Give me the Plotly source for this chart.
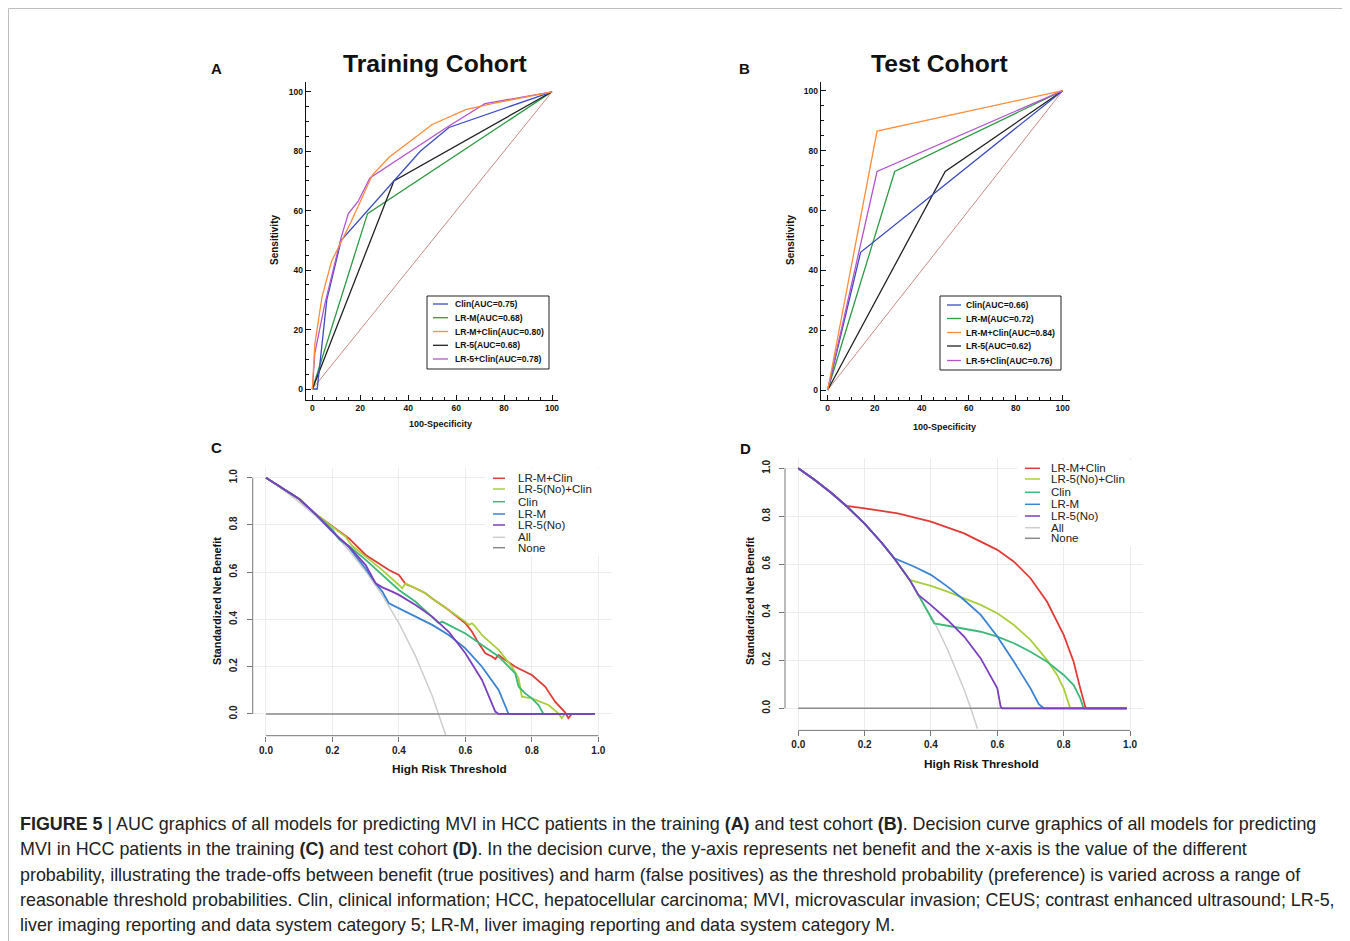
import plotly.graph_objects as go

OFF = 8  # page body margin
W, H = 1342, 933


def px(x):
    return (x - OFF) / W


def py(y):
    return 1 - (y - OFF) / H


# ---------------- ROC data (panel A, training cohort) ----------------
rocA_names = ["Clin(AUC=0.75)", "LR-M(AUC=0.68)", "LR-M+Clin(AUC=0.80)",
              "LR-5(AUC=0.68)", "LR-5+Clin(AUC=0.78)"]
clinA_x = [0, 2, 6, 12, 45, 57, 100]
clinA_y = [0, 0, 30, 50, 80, 88, 100]
lrmA_x = [0, 23, 100]
lrmA_y = [0, 59, 100]
lrmclinA_x = [0, 1, 4, 8, 16, 25, 32, 40, 50, 64, 75, 100]
lrmclinA_y = [0, 15, 31, 43, 56, 72, 78, 83, 89, 94, 96, 100]
lr5A_x = [0, 34, 100]
lr5A_y = [0, 70, 100]
lr5clinA_x = [0, 1, 5, 12, 15, 19, 24, 45, 56, 72, 100]
lr5clinA_y = [0, 12, 28, 51, 59, 63, 71, 82, 88, 96, 100]

# ---------------- ROC data (panel B, test cohort) ----------------
rocB_names = ["Clin(AUC=0.66)", "LR-M(AUC=0.72)", "LR-M+Clin(AUC=0.84)",
              "LR-5(AUC=0.62)", "LR-5+Clin(AUC=0.76)"]
clinB_x = [0, 14, 100]
clinB_y = [0, 46, 100]
lrmB_x = [0, 28.5, 100]
lrmB_y = [0, 73, 100]
lrmclinB_x = [0, 21, 100]
lrmclinB_y = [0, 86.5, 100]
lr5B_x = [0, 50, 100]
lr5B_y = [0, 73, 100]
lr5clinB_x = [0, 21, 100]
lr5clinB_y = [0, 73, 100]

diag_x = [0, 100]
diag_y = [0, 100]

roc_ticks = [0, 20, 40, 60, 80, 100]

# ---------------- Decision curves (panel C, training) ----------------
dca_names = ["LR-M+Clin", "LR-5(No)+Clin", "Clin", "LR-M", "LR-5(No)", "All", "None"]
allC_x = [0, 0.05, 0.1, 0.15, 0.2, 0.25, 0.3, 0.35, 0.4, 0.45, 0.5, 0.52, 0.545]
allC_y = [1.0, 0.951, 0.897, 0.837, 0.769, 0.692, 0.604, 0.503, 0.385, 0.245, 0.077, 0.0, -0.106]
noneC_x = [0, 0.99]
noneC_y = [0, 0]
redC_x = [0, 0.05, 0.1, 0.15, 0.2, 0.25, 0.3, 0.34, 0.37, 0.4, 0.41, 0.42, 0.45, 0.48, 0.5,
          0.55, 0.6, 0.62, 0.64, 0.66, 0.68, 0.69, 0.7, 0.72, 0.75, 0.8, 0.84, 0.87, 0.9,
          0.91, 0.92, 0.99]
redC_y = [1.0, 0.955, 0.91, 0.845, 0.793, 0.743, 0.673, 0.638, 0.609, 0.588, 0.567, 0.55,
          0.532, 0.511, 0.489, 0.44, 0.384, 0.348, 0.299, 0.257, 0.243, 0.233, 0.25, 0.228,
          0.2, 0.165, 0.116, 0.052, 0.007, -0.018, 0.0, 0.0]
yelC_x = [0, 0.05, 0.1, 0.15, 0.2, 0.24, 0.25, 0.26, 0.3, 0.35, 0.4, 0.41, 0.42, 0.45, 0.48,
          0.5, 0.55, 0.6, 0.61, 0.62, 0.63, 0.65, 0.7, 0.74, 0.76, 0.77, 0.8, 0.85, 0.88,
          0.89, 0.9, 0.99]
yelC_y = [1.0, 0.955, 0.91, 0.845, 0.793, 0.75, 0.729, 0.711, 0.666, 0.609, 0.546, 0.532,
          0.553, 0.532, 0.511, 0.489, 0.44, 0.391, 0.377, 0.384, 0.37, 0.334, 0.271, 0.2,
          0.151, 0.073, 0.066, 0.038, 0.003, -0.018, 0.0, 0.0]
grnC_x = [0, 0.05, 0.1, 0.15, 0.2, 0.22, 0.25, 0.3, 0.35, 0.4, 0.45, 0.5, 0.52, 0.53, 0.6,
          0.65, 0.7, 0.75, 0.76, 0.78, 0.8, 0.82, 0.835, 0.99]
grnC_y = [1.0, 0.955, 0.91, 0.845, 0.78, 0.739, 0.711, 0.652, 0.588, 0.525, 0.475, 0.412,
          0.384, 0.391, 0.341, 0.292, 0.243, 0.172, 0.116, 0.087, 0.066, 0.038, 0.0, 0.0]
bluC_x = [0, 0.05, 0.1, 0.15, 0.2, 0.25, 0.3, 0.33, 0.35, 0.37, 0.4, 0.45, 0.5, 0.55, 0.6,
          0.65, 0.7, 0.73, 0.99]
bluC_y = [1.0, 0.955, 0.91, 0.845, 0.772, 0.705, 0.615, 0.553, 0.518, 0.468, 0.447, 0.412,
          0.377, 0.334, 0.278, 0.2, 0.102, 0.0, 0.0]
purC_x = [0, 0.05, 0.1, 0.15, 0.2, 0.25, 0.3, 0.33, 0.35, 0.38, 0.4, 0.45, 0.5, 0.55, 0.6,
          0.65, 0.69, 0.7, 0.99]
purC_y = [1.0, 0.955, 0.91, 0.845, 0.772, 0.708, 0.63, 0.553, 0.536, 0.518, 0.504, 0.461,
          0.412, 0.348, 0.257, 0.144, 0.01, 0.0, 0.0]

# ---------------- Decision curves (panel D, test) ----------------
allD_x = [0, 0.05, 0.1, 0.145, 0.2, 0.25, 0.29, 0.335, 0.362, 0.41, 0.45, 0.5, 0.52, 0.54]
allD_y = [1.0, 0.951, 0.897, 0.843, 0.769, 0.692, 0.623, 0.537, 0.472, 0.36, 0.245, 0.077,
          0.0, -0.085]
noneD_x = [0, 0.99]
noneD_y = [0, 0]
redD_x = [0, 0.05, 0.1, 0.145, 0.2, 0.3, 0.4, 0.5, 0.6, 0.65, 0.7, 0.75, 0.8, 0.83, 0.85,
          0.865, 0.87, 0.99]
redD_y = [1.0, 0.951, 0.897, 0.843, 0.833, 0.8125, 0.778, 0.729, 0.66, 0.611, 0.542, 0.444,
          0.306, 0.194, 0.083, 0.007, 0.0, 0.0]
yelD_x = [0, 0.05, 0.1, 0.145, 0.2, 0.25, 0.29, 0.335, 0.4, 0.45, 0.5, 0.55, 0.6, 0.65, 0.7,
          0.75, 0.78, 0.8, 0.82, 0.99]
yelD_y = [1.0, 0.951, 0.897, 0.843, 0.769, 0.692, 0.623, 0.535, 0.51, 0.486, 0.458, 0.431,
          0.396, 0.347, 0.285, 0.201, 0.139, 0.083, 0.0, 0.0]
grnD_x = [0, 0.05, 0.1, 0.145, 0.2, 0.25, 0.29, 0.335, 0.362, 0.41, 0.45, 0.5, 0.55, 0.6,
          0.65, 0.7, 0.75, 0.8, 0.83, 0.85, 0.86, 0.99]
grnD_y = [1.0, 0.951, 0.897, 0.843, 0.769, 0.692, 0.623, 0.537, 0.472, 0.354, 0.344, 0.333,
          0.319, 0.299, 0.271, 0.236, 0.194, 0.139, 0.097, 0.042, 0.0, 0.0]
bluD_x = [0, 0.05, 0.1, 0.145, 0.2, 0.25, 0.29, 0.35, 0.4, 0.45, 0.5, 0.55, 0.6, 0.65, 0.7,
          0.725, 0.74, 0.99]
bluD_y = [1.0, 0.951, 0.897, 0.843, 0.769, 0.692, 0.625, 0.59, 0.556, 0.507, 0.451, 0.389,
          0.299, 0.194, 0.083, 0.017, 0.0, 0.0]
purD_x = [0, 0.05, 0.1, 0.145, 0.2, 0.25, 0.29, 0.335, 0.362, 0.4, 0.45, 0.5, 0.55, 0.6,
          0.61, 0.615, 0.99]
purD_y = [1.0, 0.951, 0.897, 0.843, 0.769, 0.692, 0.623, 0.537, 0.472, 0.43, 0.368, 0.299,
          0.208, 0.083, 0.007, 0.0, 0.0]

dca_ticks = [0, 0.2, 0.4, 0.6, 0.8, 1.0]

caption_lines = [
    "<b>FIGURE 5</b> | AUC graphics of all models for predicting MVI in HCC patients in the training <b>(A)</b> and test cohort <b>(B)</b>. Decision curve graphics of all models for predicting",
    "MVI in HCC patients in the training <b>(C)</b> and test cohort <b>(D)</b>. In the decision curve, the y-axis represents net benefit and the x-axis is the value of the different",
    "probability, illustrating the trade-offs between benefit (true positives) and harm (false positives) as the threshold probability (preference) is varied across a range of",
    "reasonable threshold probabilities. Clin, clinical information; HCC, hepatocellular carcinoma; MVI, microvascular invasion; CEUS; contrast enhanced ultrasound; LR-5,",
    "liver imaging reporting and data system category 5; LR-M, liver imaging reporting and data system category M.",
]

# ---------------- styles ----------------
roc_colors = ["#3b4cc0", "#2e9a44", "#ff8c3a", "#222222", "#b455cc"]
diag_color = "#c98a86"
dca_colors = ["#e23b36", "#a9cf3d", "#3cb878", "#3a82d2", "#7c3fbd", "#cdcdcd", "#8a8a8a"]
SANS = "Liberation Sans, Arial, sans-serif"

fig = go.Figure()

rocA = [(clinA_x, clinA_y), (lrmA_x, lrmA_y), (lrmclinA_x, lrmclinA_y),
        (lr5A_x, lr5A_y), (lr5clinA_x, lr5clinA_y)]
rocB = [(clinB_x, clinB_y), (lrmB_x, lrmB_y), (lrmclinB_x, lrmclinB_y),
        (lr5B_x, lr5B_y), (lr5clinB_x, lr5clinB_y)]

for xr, yr in [("x", "y"), ("x2", "y2")]:
    fig.add_trace(go.Scatter(x=diag_x, y=diag_y, mode="lines", xaxis=xr, yaxis=yr,
                             line=dict(color=diag_color, width=1), showlegend=False,
                             hoverinfo="skip"))

for series, names, xr, yr in [(rocA, rocA_names, "x", "y"), (rocB, rocB_names, "x2", "y2")]:
    for i in [1, 3, 0, 4, 2]:
        xs, ys = series[i]
        fig.add_trace(go.Scatter(x=xs, y=ys, mode="lines", xaxis=xr, yaxis=yr, name=names[i],
                                 line=dict(color=roc_colors[i], width=1.3), showlegend=False))

dcaC = [(redC_x, redC_y), (yelC_x, yelC_y), (grnC_x, grnC_y), (bluC_x, bluC_y),
        (purC_x, purC_y), (allC_x, allC_y), (noneC_x, noneC_y)]
dcaD = [(redD_x, redD_y), (yelD_x, yelD_y), (grnD_x, grnD_y), (bluD_x, bluD_y),
        (purD_x, purD_y), (allD_x, allD_y), (noneD_x, noneD_y)]

for series, xr, yr in [(dcaC, "x3", "y3"), (dcaD, "x4", "y4")]:
    for i in [5, 6, 0, 1, 2, 3, 4]:
        xs, ys = series[i]
        fig.add_trace(go.Scatter(x=xs, y=ys, mode="lines", xaxis=xr, yaxis=yr,
                                 name=dca_names[i], showlegend=False,
                                 line=dict(color=dca_colors[i], width=1.8 if i < 5 else 1.5)))

# ---------------- axes ----------------
roc_tickfont = dict(family=SANS, size=8.5, color="#111", weight="bold")


def roc_axis(l, r, rng, anchor):
    return dict(domain=[l, r], range=rng, anchor=anchor, showline=True, linecolor="#111",
                linewidth=1, ticks="inside", ticklen=5, tickwidth=1, tickcolor="#111",
                tickvals=roc_ticks, showgrid=False, zeroline=False, tickfont=roc_tickfont,
                minor=dict(dtick=5, ticks="inside", ticklen=3, tickcolor="#111", showgrid=False))


dca_tickfont = dict(family=SANS, size=10, color="#222", weight="bold")


def dca_axis(l, r, rng, anchor, angle=0, standoff=None):
    d = dict(domain=[l, r], range=rng, anchor=anchor, showline=False, ticks="outside",
             ticklen=5, tickwidth=1, tickcolor="#777", tickvals=dca_ticks,
             tickformat=".1f", showgrid=True, gridcolor="#ececec", gridwidth=1,
             zeroline=False, tickfont=dca_tickfont, tickangle=angle)
    if standoff is not None:
        d["ticklabelstandoff"] = standoff
    return d


fig.update_layout(
    width=W, height=H, margin=dict(l=0, r=0, t=0, b=0),
    paper_bgcolor="white", plot_bgcolor="white", showlegend=False,
    xaxis=roc_axis(px(305.7), px(558), [-2.8, 102.5], "y"),
    yaxis=roc_axis(py(400), py(81.7), [-3.7, 103.4], "x"),
    xaxis2=roc_axis(px(820.7), px(1070), [-2.98, 103.1], "y2"),
    yaxis2=roc_axis(py(400), py(81.7), [-3.34, 103.0], "x2"),
    xaxis3=dca_axis(px(252.7), px(611.6), [-0.04, 1.04], "y3"),
    yaxis3=dca_axis(py(735.7), py(467.8), [-0.092, 1.042], "x3", -90, 6),
    xaxis4=dca_axis(px(785.0), px(1143.3), [-0.04, 1.04], "y4"),
    yaxis4=dca_axis(py(730.4), py(458.2), [-0.092, 1.042], "x4", -90, 5),
)

shapes = []
annotations = []

# outer frame
shapes.append(dict(type="rect", xref="paper", yref="paper", x0=px(8.5), x1=px(1343),
                   y0=py(950), y1=py(8.5), line=dict(color="#bdbdbd", width=1)))

# decision-curve axis lines spanning 0..1
for xr, yr in [("x3", "y3"), ("x4", "y4")]:
    shapes.append(dict(type="line", xref=xr, yref=yr + " domain", x0=0, x1=1, y0=0, y1=0,
                       line=dict(color="#777", width=1)))
    shapes.append(dict(type="line", xref=xr + " domain", yref=yr, x0=0, x1=0, y0=0, y1=1,
                       line=dict(color="#777", width=1)))

# ROC legends (manual boxes)
roc_leg = [
    (rocA_names, (427, 296, 549, 369), [304, 317.7, 331.5, 345.3, 359], 433, 448, 452.5),
    (rocB_names, (940, 296, 1061, 370), [305, 318.5, 332.5, 346, 360.5], 947, 961, 964),
]
for names, box, ys, lx0, lx1, tx in roc_leg:
    shapes.append(dict(type="rect", xref="paper", yref="paper", x0=px(box[0]), x1=px(box[2]),
                       y0=py(box[3]), y1=py(box[1]), line=dict(color="#222", width=1),
                       fillcolor="white", layer="above"))
    for i, (nm, yy) in enumerate(zip(names, ys)):
        shapes.append(dict(type="line", xref="paper", yref="paper", x0=px(lx0), x1=px(lx1),
                           y0=py(yy), y1=py(yy), line=dict(color=roc_colors[i], width=1.3),
                           layer="above"))
        annotations.append(dict(text=nm, xref="paper", yref="paper", x=px(tx), y=py(yy),
                                xanchor="left", yanchor="middle", showarrow=False,
                                font=dict(family=SANS, size=8.6, color="#111", weight="bold")))

# DCA legends
dca_leg = [
    ((485, 469, 612, 556), [478.3, 489, 501.7, 514, 525, 537.3, 547.7], 493, 505, 516),
    ((1017, 460, 1143, 546), [468.3, 479, 492.3, 504.3, 516, 527.7, 538.3], 1025, 1040, 1049),
]
for box, ys, lx0, lx1, tx in dca_leg:
    shapes.append(dict(type="rect", xref="paper", yref="paper", x0=px(box[0]), x1=px(box[2]),
                       y0=py(box[3]), y1=py(box[1]), line=dict(width=0),
                       fillcolor="white", layer="above"))
    for i, (nm, yy) in enumerate(zip(dca_names, ys)):
        shapes.append(dict(type="line", xref="paper", yref="paper", x0=px(lx0), x1=px(lx1),
                           y0=py(yy), y1=py(yy), line=dict(color=dca_colors[i], width=1.5),
                           layer="above"))
        annotations.append(dict(text=nm, xref="paper", yref="paper", x=px(tx), y=py(yy),
                                xanchor="left", yanchor="middle", showarrow=False,
                                font=dict(family=SANS, size=11.5, color="#222")))


def ann(text, x, y, size, bold=True, angle=0, xanchor="center", color="#111"):
    annotations.append(dict(text=text, xref="paper", yref="paper", x=px(x), y=py(y),
                            xanchor=xanchor, yanchor="middle", showarrow=False, textangle=angle,
                            font=dict(family=SANS, size=size, color=color,
                                      weight="bold" if bold else "normal")))


ann("Training Cohort", 435, 63, 24.7)
ann("Test Cohort", 939, 63, 24.7)
ann("A", 216, 68, 15)
ann("B", 744, 68, 15)
ann("C", 216, 447, 15)
ann("D", 745, 448, 15)
ann("Sensitivity", 274, 240, 10, angle=-90)
ann("100-Specificity", 440, 424, 9)
ann("Sensitivity", 790, 240, 10, angle=-90)
ann("100-Specificity", 944, 427, 9)
ann("Standardized Net Benefit", 217, 601, 10.8, angle=-90)
ann("High Risk Threshold", 449, 769, 11.8)
ann("Standardized Net Benefit", 750, 601, 10.8, angle=-90)
ann("High Risk Threshold", 981, 764, 11.8)

cap_y = [824, 849, 874.5, 900, 925]
for line, yy in zip(caption_lines, cap_y):
    ann(line, 18, yy, 17.9, bold=False, xanchor="left", color="#222")

fig.update_layout(shapes=shapes, annotations=annotations)
fig.write_html("out.html")
